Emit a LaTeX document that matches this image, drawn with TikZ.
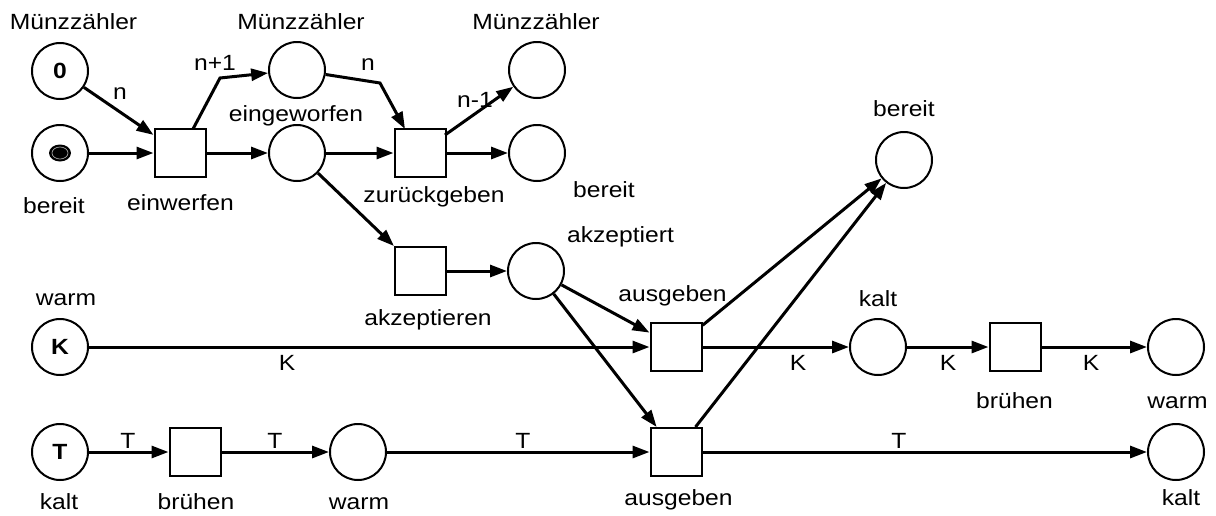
\documentclass[tikz,border=0pt]{standalone}
\usepackage{fontspec}
\setmainfont{Liberation Sans}[FakeStretch=1.12]
\usetikzlibrary{arrows.meta}
\tikzset{
  place/.style={circle, draw, line width=2pt, minimum size=56pt, inner sep=0pt, font=\fontsize{22}{26}\selectfont\bfseries},
  trans/.style={rectangle, draw, line width=2pt, minimum width=51pt, minimum height=48pt, inner sep=0pt},
  arc/.style={line width=3pt, -{Triangle[length=17pt,width=12pt]}},
  lbl/.style={anchor=base, inner sep=0pt},
}
\begin{document}
\begin{tikzpicture}[x=1pt,y=-1pt, font=\fontsize{22}{26}\selectfont]
\useasboundingbox (0,0) rectangle (1216,515);
% places
\node[place] (pz) at (60,71) {0};
\node[place] (pb) at (60,153) {};
\node[place] (pm2) at (297,70) {};
\node[place] (pe) at (297,153) {};
\node[place] (pm3) at (537,70) {};
\node[place] (pb2) at (537,153) {};
\node[place] (pbr) at (904,160) {};
\node[place] (pak) at (536,271) {};
\node[place] (pK) at (60,347) {K};
\node[place] (pkalt) at (878,347) {};
\node[place] (pwarmR) at (1176,347) {};
\node[place] (pT) at (60,452) {T};
\node[place] (pwarm) at (358,452) {};
\node[place] (pkaltR) at (1176,452) {};
% token
\fill (pb.center) ellipse [x radius=11, y radius=8.5];
\draw[gray!70, line width=0.7pt] (pb.center) ellipse [x radius=8, y radius=6];
% transitions
\node[trans] (t1) at (180,153) {};
\node[trans] (t2) at (420,153) {};
\node[trans] (tak) at (420,271) {};
\node[trans] (ta1) at (676,347) {};
\node[trans] (ta2) at (676,452) {};
\node[trans] (tbR) at (1015,347) {};
\node[trans] (tbL) at (195,452) {};
% helper coordinates
\coordinate (s1) at (193,129);
\coordinate (b1) at (220,78);
\coordinate (b2) at (380,83);
\coordinate (e2) at (405,129);
\coordinate (s3) at (445,135);
% arcs
\draw[arc] (pz) -- (t1);
\draw[arc] (pb) -- (t1);
\draw[arc] (s1) -- (b1) -- (pm2);
\draw[arc] (t1) -- (pe);
\draw[arc] (pm2) -- (b2) -- (e2);
\draw[arc] (pe) -- (t2);
\draw[arc] (s3) -- (pm3);
\draw[arc] (t2) -- (pb2);
\draw[arc] (pe) -- (tak);
\draw[arc] (tak) -- (pak);
\draw[arc] (pak) -- (ta1);
\draw[arc] (pak) -- (ta2);
\draw[arc] (ta1) -- (pbr);
\draw[arc] (ta2) -- (pbr);
\draw[arc] (pK) -- (ta1);
\draw[arc] (ta1) -- (pkalt);
\draw[arc] (pkalt) -- (tbR);
\draw[arc] (tbR) -- (pwarmR);
\draw[arc] (pT) -- (tbL);
\draw[arc] (tbL) -- (pwarm);
\draw[arc] (pwarm) -- (ta2);
\draw[arc] (ta2) -- (pkaltR);
% labels
\node[lbl] (l1) at (73.5,29) {Münzzähler};
\node[lbl] (l2) at (301,29) {Münzzähler};
\node[lbl] (l3) at (536,29) {Münzzähler};
\node[lbl] (l4) at (120,99) {n};
\node[lbl] (l5) at (215,70) {n+1};
\node[lbl] (l6) at (296,121) {eingeworfen};
\node[lbl] (l7) at (368,70) {n};
\node[lbl] (l8) at (475,107) {n-1};
\node[lbl] (l9) at (54,213) {bereit};
\node[lbl] (l10) at (180.5,210) {einwerfen};
\node[lbl] (l11) at (434,202) {zurückgeben};
\node[lbl] (l12) at (604,197) {bereit};
\node[lbl] (l13) at (904,116) {bereit};
\node[lbl] (l14) at (620.5,242) {akzeptiert};
\node[lbl] (l15) at (428,325) {akzeptieren};
\node[lbl] (l16) at (672.5,301) {ausgeben};
\node[lbl] (l17) at (878,306) {kalt};
\node[lbl] (l18) at (66,305) {warm};
\node[lbl] (l19) at (287,370) {K};
\node[lbl] (l20) at (798,370) {K};
\node[lbl] (l21) at (948,370) {K};
\node[lbl] (l22) at (1091,370) {K};
\node[lbl] (l23) at (1014.5,408) {brühen};
\node[lbl] (l24) at (1177.5,408) {warm};
\node[lbl] (l25) at (128,448) {T};
\node[lbl] (l26) at (275,448) {T};
\node[lbl] (l27) at (523,448) {T};
\node[lbl] (l28) at (899,448) {T};
\node[lbl] (l29) at (59,509) {kalt};
\node[lbl] (l30) at (196,509) {brühen};
\node[lbl] (l31) at (359,509) {warm};
\node[lbl] (l32) at (678.5,505) {ausgeben};
\node[lbl] (l33) at (1181,505) {kalt};
\end{tikzpicture}
\end{document}
